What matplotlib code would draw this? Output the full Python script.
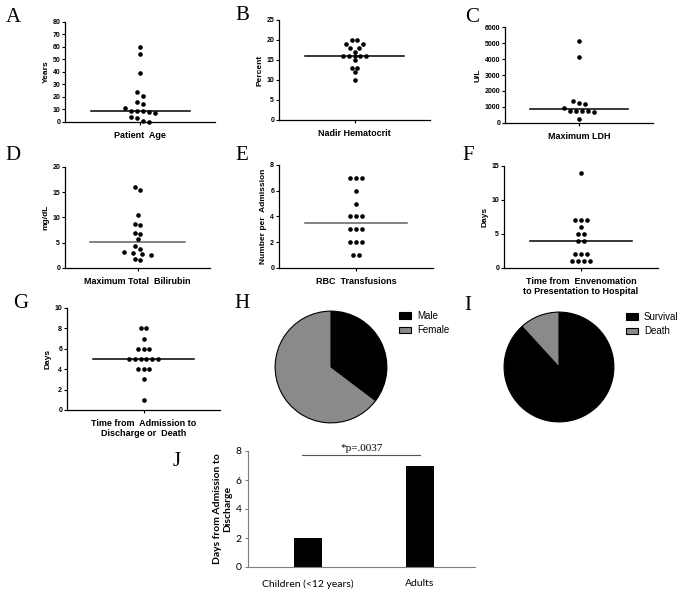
import numpy as np
import matplotlib
matplotlib.use("Agg")
import matplotlib.pyplot as plt
from matplotlib.patches import Patch

# values
age_years = [60, 54, 39, 24, 21, 16, 14, 11, 9, 9, 9, 8, 7, 4, 3, 1, 0]
nadir_hct = [20, 20, 19, 19, 18, 18, 17, 16, 16, 16, 16, 16, 15, 13, 13, 12, 10]
max_ldh = [5100, 4150, 1400, 1270, 1200, 950, 780, 720, 720, 720, 680, 280]
max_bili = [16.1, 15.5, 10.4, 8.8, 8.6, 7.0, 6.7, 5.7, 4.4, 3.8, 3.2, 2.9, 2.8, 2.6, 1.8, 1.65]
rbc_units = [7, 7, 7, 6, 5, 4, 4, 4, 3, 3, 3, 2, 2, 2, 1, 1]
days_to_presentation = [14, 7, 7, 7, 6, 5, 5, 4, 4, 2, 2, 2, 1, 1, 1, 1]
days_to_discharge = [8, 8, 7, 6, 6, 6, 5, 5, 5, 5, 5, 5, 4, 4, 4, 3, 1]

sex_labels = ["Male", "Female"]
sex_counts = [6, 11]
outcome_labels = ["Survival", "Death"]
outcome_counts = [15, 2]

j_groups = ["Children (<12 years)", "Adults"]
j_days = [2, 7]
j_pvalue = "*p=.0037"

W, H = 683, 595
plt.rcParams["font.family"] = ["Liberation Sans", "DejaVu Sans"]

DOT_STEP = 5.9   # px between neighbouring dots in a row
MIN_GAP = 5.2    # px, preferred centre distance between dots of different rows


def px_axes(fig, x0, x1, ytop, ybot):
    # axes placed by pixel box of the reference image
    return fig.add_axes([x0 / W, 1 - ybot / H, (x1 - x0) / W, (ybot - ytop) / H])


def swarm_px(vals, px_per_unit, row_tol):
    # rows of near-equal values, placed from the median outwards
    order = np.argsort(vals, kind="stable")
    rows, cur = [], [order[0]]
    for i in order[1:]:
        if (vals[i] - vals[cur[0]]) * px_per_unit <= row_tol:
            cur.append(i)
        else:
            rows.append(cur)
            cur = [i]
    rows.append(cur)
    med = np.median(vals)
    rows.sort(key=lambda r: abs(np.mean(vals[r]) - med))

    cands = []
    for sh in [0, 0.5, -0.5, 1, -1]:
        for m in [1, 1.5, 2, 3]:
            cands.append((abs(sh) + 0.25 * (m - 1), m, sh))
    cands.sort(key=lambda c: c[0])

    xpx = np.zeros(len(vals))
    placed = []
    for r in rows:
        r = sorted(r, key=lambda i: -vals[i])  # higher values to the left
        n = len(r)
        ys = vals[r] * px_per_unit
        base = np.arange(n) - (n - 1) / 2
        chosen = base * DOT_STEP
        for _, m, sh in cands:
            xs = (base * m + sh) * DOT_STEP
            ok = all(np.hypot(x - px, y - py) >= MIN_GAP
                     for x, y in zip(xs, ys) for px, py in placed)
            if ok:
                chosen = xs
                break
        for i, x, y in zip(r, chosen, ys):
            xpx[i] = x
            placed.append((x, y))
    return xpx


def dot_panel(fig, box, values, ymax, ystep, ylabel, xlabel, line_color="black", row_tol=3.5):
    x0, x1, ytop, ybot = box
    ax = px_axes(fig, x0, x1, ytop, ybot)
    vals = np.asarray(values, float)
    xpx = swarm_px(vals, (ybot - ytop) / ymax, row_tol)
    ax.scatter(xpx / ((x1 - x0) / 2), vals, s=11, color="black", linewidths=0,
               zorder=3, clip_on=False)
    med = np.median(vals)
    ax.plot([-0.66, 0.66], [med, med], color=line_color, lw=1.1, zorder=2)
    ax.set_xlim(-1, 1)
    ax.set_ylim(0, ymax)
    ax.set_yticks(np.arange(0, ymax + ystep / 2, ystep))
    ax.set_xticks([0])
    ax.set_xticklabels([])
    for s in ["top", "right"]:
        ax.spines[s].set_visible(False)
    for s in ["left", "bottom"]:
        ax.spines[s].set_linewidth(0.9)
    ax.tick_params(length=2.5, width=0.8, pad=1)
    for lab in ax.get_yticklabels():
        lab.set_fontsize(5)
        lab.set_fontweight("bold")
    ax.set_ylabel(ylabel, fontsize=6, fontweight="bold", labelpad=2)
    ax.set_xlabel(xlabel, fontsize=6.5, fontweight="bold", labelpad=3, linespacing=1.15)
    return ax


fig = plt.figure(figsize=(6.83, 5.95), dpi=100)

dot_panel(fig, (65, 215, 22, 122), age_years, 80, 10, "Years", "Patient  Age", row_tol=5.2)
dot_panel(fig, (279, 430, 20, 120), nadir_hct, 25, 5, "Percent", "Nadir Hematocrit")
dot_panel(fig, (505, 653, 27, 123), max_ldh, 6000, 1000, "U/L", "Maximum LDH", row_tol=5.2)
dot_panel(fig, (65, 210, 167, 268), max_bili, 20, 5, "mg/dL", "Maximum Total  Bilirubin",
          line_color="#606060")
dot_panel(fig, (279, 433, 165, 268), rbc_units, 8, 2, "Number per  Admission", "RBC  Transfusions",
          line_color="#606060")
dot_panel(fig, (504, 658, 166, 268), days_to_presentation, 15, 5, "Days",
          "Time from  Envenomation\nto Presentation to Hospital")
dot_panel(fig, (67, 220, 308, 410), days_to_discharge, 10, 2, "Days",
          "Time from  Admission to\nDischarge or  Death")

# pie charts
pie_colors = ["black", "#8a8a8a"]
for (cx, cy, r), counts, labels, leg_xy in [
    ((331, 367, 57), sex_counts, sex_labels, (399, 311)),
    ((559, 367, 56), outcome_counts, outcome_labels, (626, 312)),
]:
    ax = px_axes(fig, cx - r, cx + r, cy - r, cy + r)
    ax.pie(counts, colors=pie_colors, startangle=90, counterclock=False,
           wedgeprops=dict(edgecolor="black", linewidth=0.8))
    ax.set_xlim(-1.02, 1.02)
    ax.set_ylim(-1.02, 1.02)
    ax.set_aspect("equal")
    handles = [Patch(facecolor=c, edgecolor="black", linewidth=0.8) for c in pie_colors]
    fig.legend(handles, labels, loc="upper left",
               bbox_to_anchor=(leg_xy[0] / W, 1 - leg_xy[1] / H),
               frameon=False, fontsize=7, handlelength=1.25, handleheight=0.65,
               handletextpad=0.6, labelspacing=0.45, borderpad=0, borderaxespad=0)

# panel J bar chart
ax = px_axes(fig, 248, 475, 451, 567)
ax.bar(range(len(j_groups)), j_days, width=0.25, color="black")
ax.set_xlim(-0.535, 1.49)
ax.set_ylim(0, 8)
ax.set_yticks(np.arange(0, 9, 2))
ax.set_xticks(range(len(j_groups)))
ax.set_xticklabels(j_groups, fontsize=7.5, family="Lato")
for lab in ax.get_yticklabels():
    lab.set_fontsize(7.5)
    lab.set_family("Lato")
for s in ["top", "right"]:
    ax.spines[s].set_visible(False)
for s in ["left", "bottom"]:
    ax.spines[s].set_color("#7f7f7f")
    ax.spines[s].set_linewidth(0.8)
ax.tick_params(axis="x", length=0, pad=9)
ax.tick_params(axis="y", length=2.5, width=0.8, color="#7f7f7f", pad=2)
ax.set_ylabel("Days from Admission to\nDischarge", fontsize=7.5, fontweight="bold",
              family="Lato", linespacing=1.1)
ax.yaxis.set_label_coords(-0.07, 0.5)
ax.plot([-0.05, 1.0], [7.72, 7.72], color="#555555", lw=0.8, clip_on=False)
ax.text(0.48, 7.88, j_pvalue, ha="center", va="bottom", family="Liberation Serif", fontsize=8)

# panel letters
letters = [("A", 13, 18), ("B", 242, 16), ("C", 472, 17), ("D", 13, 155), ("E", 242, 155),
           ("F", 468, 155), ("G", 21, 303), ("H", 242, 303), ("I", 468, 305), ("J", 177, 462)]
for txt, x, y in letters:
    fig.text(x / W, 1 - y / H, txt, ha="center", va="center",
             family="Liberation Serif", fontsize=15)

fig.savefig("out.png", dpi=100)
plt.close(fig)
